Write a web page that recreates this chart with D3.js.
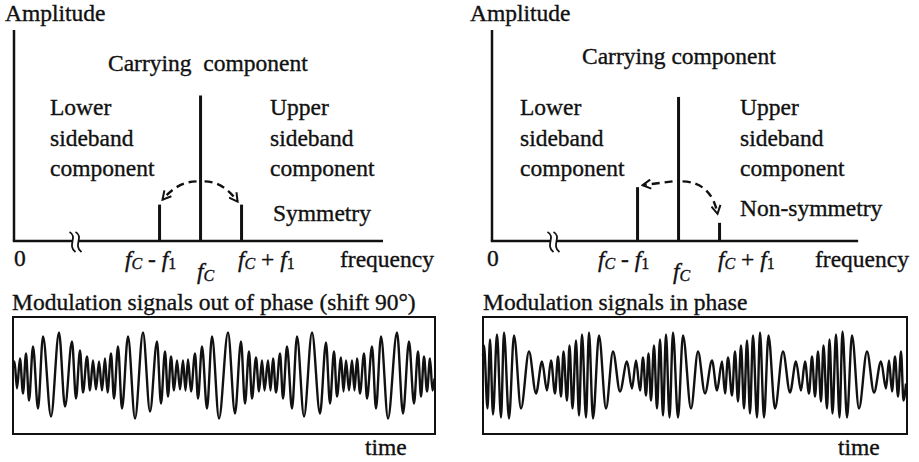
<!DOCTYPE html>
<html><head><meta charset="utf-8">
<script src="https://cdn.jsdelivr.net/npm/d3@7"></script>
<style>
html,body{margin:0;padding:0;background:#fff;}
svg{display:block;font-family:"Liberation Serif","Times New Roman",serif;}
text{fill:#111;stroke:#111;stroke-width:0.35px;font-size:23.5px;white-space:pre;font-family:"Liberation Serif","Times New Roman",serif;}
</style></head><body>
<svg id="chart" width="919" height="462"></svg>
<script>
// ---------- data ----------
const components = ["lower sideband", "carrier", "upper sideband"];
const fc = 4.55, f1 = 1;
const frequencies = [fc - f1, fc, fc + f1];
const ampSymmetric = [0.25, 1, 0.25];
const ampNonSymmetric = [0.37, 0.99, 0.125];
const ampDomain = [0, 1.45];
const breakFreq = 1.5;
const leftFreqMax = 9, rightFreqMax = 8.93;

// waveform extrema (time units, amplitude units)
const outPhaseTime = [0,1.5,4,7,10,13,16,20,25,30,38,46,52,59,63,67,70,74,77,80,83,86,89,92,94.5,98,101,105,109,115,122,130,137,144,148,152,155,158,161,164,167,170,172.5,175,178,182,185,189,194,199,206,215,222,228,232,236,239,243,246,249,251.5,255,257.5,260,263,267,270,274,279,284,291,299,307,313,317,321,324,328,330.5,333,336,339,341.5,344,347,351,354,359,363,368,375,384,390,396,401,405,408,411,414,417,419.5,421.5];
const outPhaseAmp = [8,14,-13,17,-18,22,-25,29,-33,39,-41,43,-31,34,-23,25,-17,19,-15,15,-14,14,-15,17,-17,22,-23,29,-33,39,-43,43,-36,34,-28,24,-21,19,-15,15,-14,15,-15,16,-16,22,-23,29,-33,39,-43,43,-38,34,-28,24,-23,18,-16,15,-15,15,-15,17,-17,22,-23,29,-33,39,-41,43,-38,33,-28,24,-21,18,-16,15,-15,15,-15,17,-18,22,-23,29,-33,39,-43,43,-38,34,-28,24,-21,19,-16,17,-15,-3];
const inPhaseTime = [0,1,4.5,7,10,14,18,21,26,31,38,46,53,59,64,68,72,75,78,80.5,84,86.5,89.5,93,96,99,103,106,110,116,123,130,137,144,149,153,157,160,163,165.5,168,171,174,177,180,183,186.5,190,195,200,208,215,222,229,234,239,242,245,249,252,255,258,261,264,267,270,274,277,281,285.5,292,300,307,313,318,322,326,329,332,335,338,340.5,344,346.5,349.5,353,356.5,359.5,364,369,376,384,391,398,403,406,409,412,415,418,420.5,423];
const inPhaseAmp = [20,30,-33,36,-39,41,-42,43,-43,40,-33,24,-18,14,-15,15,-18,19,-21,24,-25,30,-33,35,-40,41,-42,43,-43,40,-33,24,-16,14,-13,15,-15,18,-20,22,-25,30,-33,36,-40,41,-42,43,-42,40,-33,24,-18,15,-15,14,-18,18,-20,24,-26,30,-33,35,-38,40,-42,43,-42,40,-33,24,-17,14,-15,14,-18,19,-21,24,-26,30,-33,36,-38,41,-42,44,-42,40,-33,24,-17,14,-13,15,-16,19,-21,24,-25,-8];
const waveAmpDomain = [-58.5, 58.5];

const svg = d3.select("#chart");
const INK = "#111";

// ---------- spectrum panels ----------
function spectrum(opt) {
  const x = d3.scaleLinear().domain([0, opt.freqMax]).range([opt.x0, opt.x0 + opt.freqMax * 41]);
  const y = d3.scaleLinear().domain(ampDomain).range([241, 30]);
  const g = svg.append("g");
  g.append("line").attr("x1", x(0)).attr("x2", x(0)).attr("y1", y(ampDomain[1])).attr("y2", y(0))
    .attr("stroke", INK).attr("stroke-width", 2.5);
  g.append("line").attr("x1", x(0) - 1.2).attr("x2", x(opt.freqMax)).attr("y1", y(0)).attr("y2", y(0))
    .attr("stroke", INK).attr("stroke-width", 2.5);
  // axis break
  const bx = x(breakFreq), by = y(0);
  g.append("rect").attr("x", bx - 3).attr("y", by - 3).attr("width", 6).attr("height", 6).attr("fill", "#fff");
  [-3, 3].forEach(dx => {
    g.append("path")
      .attr("d", `M${bx + dx - 3},${by - 9} C${bx + dx + 6},${by - 4} ${bx + dx - 6},${by + 4} ${bx + dx + 3},${by + 11}`)
      .attr("fill", "none").attr("stroke", INK).attr("stroke-width", 1.8);
  });
  g.selectAll("line.bar").data(frequencies).join("line").attr("class", "bar")
    .attr("x1", d => x(d)).attr("x2", d => x(d))
    .attr("y1", y(0)).attr("y2", (d, i) => y(opt.amps[i]))
    .attr("stroke", INK).attr("stroke-width", 3);
  return {x, y, g};
}

const marker = svg.append("defs").append("marker")
  .attr("id", "arrow").attr("viewBox", "0 0 12 12").attr("refX", 10).attr("refY", 6)
  .attr("markerWidth", 11).attr("markerHeight", 11).attr("markerUnits", "userSpaceOnUse")
  .attr("orient", "auto");
marker.append("path").attr("d", "M1,1 L10,6 L1,11").attr("fill", "none").attr("stroke", INK).attr("stroke-width", 2.2);

function dashed(g, d) {
  g.append("path").attr("d", d).attr("fill", "none").attr("stroke", INK)
    .attr("stroke-width", 2.4).attr("stroke-dasharray", "8,5").attr("marker-end", "url(#arrow)");
}

function text(x, y, s) {
  return svg.append("text").attr("x", x).attr("y", y).text(s);
}

function fLabel(x, y, rest) {
  const t = svg.append("text").attr("x", x).attr("y", y);
  t.append("tspan").attr("font-style", "italic").text("f");
  t.append("tspan").attr("font-style", "italic").style("font-size", "16px").attr("dy", 2).text("C");
  if (rest) {
    t.append("tspan").attr("dy", -2).text(` ${rest} `);
    t.append("tspan").attr("font-style", "italic").text("f");
    t.append("tspan").style("font-size", "16px").attr("dy", 2).text("1");
  }
}

// left spectrum (symmetric)
const L = spectrum({x0: 14, freqMax: leftFreqMax, amps: ampSymmetric});
{
  const cx = L.x(fc), top = L.y(0.41);
  dashed(L.g, `M${cx - 4},${top} Q${L.x(fc - 0.55)},${top} ${L.x(fc - f1) + 3},${L.y(ampSymmetric[0]) - 5}`);
  dashed(L.g, `M${cx + 4},${top} Q${L.x(fc + 0.55)},${top} ${L.x(fc + f1) - 4},${L.y(ampSymmetric[2]) - 3}`);
}
text(5, 21, "Amplitude");
text(108, 71, "Carrying  component");
text(50, 115, "Lower"); text(50, 145.5, "sideband"); text(50, 175.5, "component");
text(270, 115, "Upper"); text(270, 145.5, "sideband"); text(270, 175.5, "component");
text(273, 221, "Symmetry");
text(14, 266, "0");
fLabel(125, 267, "-");
fLabel(197, 279);
fLabel(238, 267, "+");
text(340, 267, "frequency");

// right spectrum (non-symmetric)
const R = spectrum({x0: 492, freqMax: rightFreqMax, amps: ampNonSymmetric});
{
  const cx = R.x(fc), top = R.y(0.41);
  dashed(R.g, `M${cx - 6},${top} L${R.x(fc - f1) + 5},${R.y(ampNonSymmetric[0]) - 2}`);
  dashed(R.g, `M${cx + 4},${top} Q${R.x(fc + 0.8)},${top + 1} ${R.x(fc + f1) - 2},${R.y(ampNonSymmetric[2]) - 9}`);
}
text(470, 21, "Amplitude");
text(582, 64, "Carrying component");
text(520, 115, "Lower"); text(520, 145.5, "sideband"); text(520, 175.5, "component");
text(740, 115, "Upper"); text(740, 145.5, "sideband"); text(740, 175.5, "component");
text(740, 215.5, "Non-symmetry");
text(487, 266, "0");
fLabel(598, 267, "-");
fLabel(673, 279);
fLabel(718, 267, "+");
text(815, 267, "frequency");

// ---------- waveform panels ----------
function wave(opt) {
  const x = d3.scaleLinear().domain([0, opt.len]).range([opt.x0, opt.x0 + opt.len]);
  const y = d3.scaleLinear().domain(waveAmpDomain).range([434, 317]);
  const g = svg.append("g");
  g.append("rect").attr("x", x(0)).attr("y", y(waveAmpDomain[1])).attr("width", x(opt.len) - x(0))
    .attr("height", y(waveAmpDomain[0]) - y(waveAmpDomain[1]))
    .attr("fill", "none").attr("stroke", INK).attr("stroke-width", 2);
  const pts = opt.time.map((t, i) => [t, opt.amp[i]]);
  g.append("path").datum(pts)
    .attr("d", d3.line().x(d => x(d[0])).y(d => y(d[1])).curve(d3.curveMonotoneX))
    .attr("fill", "none").attr("stroke", INK).attr("stroke-width", 2.4).attr("stroke-linejoin", "round");
}
wave({x0: 13, len: 422, time: outPhaseTime, amp: outPhaseAmp});
wave({x0: 483, len: 424, time: inPhaseTime, amp: inPhaseAmp});

text(12, 310, "Modulation signals out of phase (shift 90°)");
text(483, 310, "Modulation signals in phase");
text(365, 455, "time");
text(838, 455, "time");
</script>
</body></html>
